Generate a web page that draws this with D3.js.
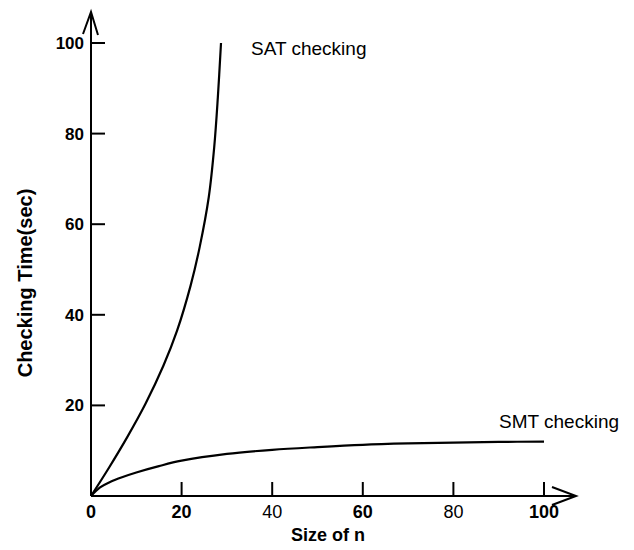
<html>
  <head>
    <title>Checking time</title>
    <script type="text/javascript" src="https://cdn.jsdelivr.net/npm/d3@7"></script>
    <style type="text/css">

body {
  margin: 0;
  background: #fff;
  font-family: "Liberation Sans", Arial, sans-serif;
}

.axis line, .axis path {
  stroke: #000;
  stroke-width: 2px;
  fill: none;
}

.curve {
  fill: none;
  stroke: #000;
  stroke-width: 2.2px;
}

text {
  fill: #000;
}

    </style>
  </head>
  <body>
    <script type="text/javascript">

// SAT checking: size n vs seconds
var satN    = [0, 4, 8, 12, 16, 19, 22, 24, 26, 27.2, 28, 28.7];
var satTime = [0, 6.3, 13, 20.3, 28.8, 36.5, 46.5, 55, 66, 77, 88, 100];

// SMT checking
var smtN    = [0, 2, 4, 7, 10, 15, 20, 30, 40, 50, 60, 70, 80, 90, 100];
var smtTime = [0, 1.9, 3.0, 4.2, 5.2, 6.6, 7.8, 9.3, 10.2, 10.8, 11.3, 11.6, 11.8, 11.95, 12.0];

var xTicks = [0, 20, 40, 60, 80, 100];
var xTickBold = [true, true, false, true, false, true];
var yTicks = [20, 40, 60, 80, 100];

var w = 634, h = 550;

var x = d3.scaleLinear().domain([0, 100]).range([91, 544]);
var y = d3.scaleLinear().domain([0, 100]).range([496, 43]);

var svg = d3.select("body")
  .append("svg")
    .attr("width", w)
    .attr("height", h);

var axes = svg.append("g").attr("class", "axis");

// axis lines with open arrowheads
axes.append("line")
    .attr("x1", x(0)).attr("y1", y(0))
    .attr("x2", 576).attr("y2", y(0));
axes.append("path")
    .attr("d", "M552,487L576," + y(0) + "L552,505");

axes.append("line")
    .attr("x1", x(0)).attr("y1", y(0))
    .attr("x2", x(0)).attr("y2", 12);
axes.append("path")
    .attr("d", "M83,34L" + x(0) + ",12L98,35");

// ticks point inwards
axes.selectAll("line.xt")
    .data(xTicks.slice(1))
  .enter().append("line")
    .attr("class", "xt")
    .attr("x1", function(d) { return x(d); })
    .attr("x2", function(d) { return x(d); })
    .attr("y1", y(0))
    .attr("y2", y(0) - 14);

axes.selectAll("line.yt")
    .data(yTicks)
  .enter().append("line")
    .attr("class", "yt")
    .attr("y1", function(d) { return y(d); })
    .attr("y2", function(d) { return y(d); })
    .attr("x1", x(0))
    .attr("x2", x(0) + 14);

svg.selectAll("text.xl")
    .data(xTicks)
  .enter().append("text")
    .attr("class", "xl")
    .attr("x", function(d) { return x(d); })
    .attr("y", 518)
    .attr("text-anchor", "middle")
    .style("font-size", "18px")
    .style("font-weight", function(d, i) { return xTickBold[i] ? "bold" : "normal"; })
    .text(function(d) { return d; });

svg.selectAll("text.yl")
    .data(yTicks)
  .enter().append("text")
    .attr("class", "yl")
    .attr("x", 84)
    .attr("y", function(d) { return y(d); })
    .attr("dy", ".35em")
    .attr("text-anchor", "end")
    .style("font-size", "17px")
    .style("font-weight", "bold")
    .text(function(d) { return d; });

// curves
var sat = satN.map(function(d, i) { return [d, satTime[i]]; });
var smt = smtN.map(function(d, i) { return [d, smtTime[i]]; });

var line = d3.line()
    .curve(d3.curveCatmullRom.alpha(0.5))
    .x(function(d) { return x(d[0]); })
    .y(function(d) { return y(d[1]); });

svg.append("path")
    .datum(sat)
    .attr("class", "curve")
    .attr("d", line);

svg.append("path")
    .datum(smt)
    .attr("class", "curve")
    .attr("d", line);

// labels
svg.append("text")
    .attr("x", 251)
    .attr("y", 55)
    .style("font-size", "19px")
    .text("SAT checking");

svg.append("text")
    .attr("x", 499)
    .attr("y", 428)
    .style("font-size", "19px")
    .text("SMT checking");

svg.append("text")
    .attr("x", 328)
    .attr("y", 541)
    .attr("text-anchor", "middle")
    .style("font-size", "18px")
    .style("font-weight", "bold")
    .text("Size of n");

svg.append("text")
    .attr("transform", "translate(32,283) rotate(-90)")
    .attr("text-anchor", "middle")
    .style("font-size", "20px")
    .style("font-weight", "bold")
    .text("Checking Time(sec)");

    </script>
  </body>
</html>
